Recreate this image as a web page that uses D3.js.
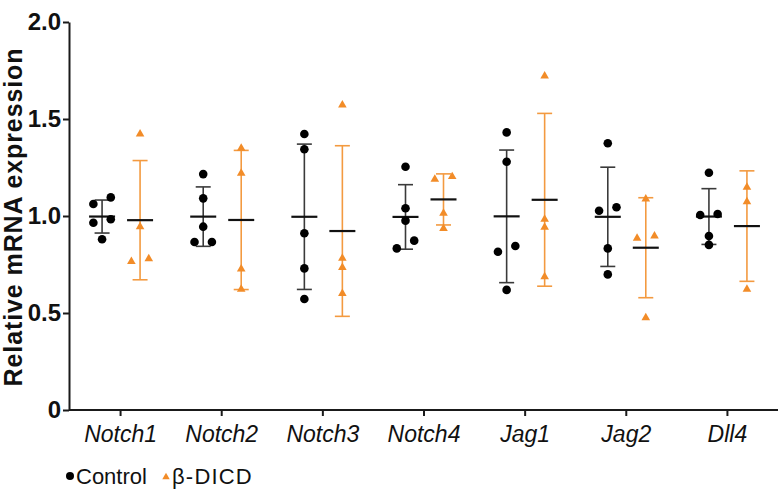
<!DOCTYPE html>
<html>
<head>
<meta charset="utf-8">
<script src="https://cdn.jsdelivr.net/npm/d3@7"></script>
<style>
  html, body { margin: 0; padding: 0; background: #fff; }
  svg { display: block; }
  text { font-family: "Liberation Sans", Arial, Helvetica, sans-serif; }
</style>
</head>
<body>
<svg id="chart" width="778" height="491"></svg>
<script>
// ---- data ----
const categories = ["Notch1", "Notch2", "Notch3", "Notch4", "Jag1", "Jag2", "Dll4"];
const seriesNames = ["Control", "β-DICD"];
const controlValues = [
  [1.096, 1.062, 0.983, 0.965, 0.880],
  [1.216, 1.091, 0.945, 0.866, 0.866],
  [1.423, 1.344, 0.911, 0.730, 0.572],
  [1.254, 1.040, 0.976, 0.873, 0.833],
  [1.431, 1.280, 0.845, 0.816, 0.619],
  [1.375, 1.045, 1.027, 0.833, 0.699],
  [1.223, 1.010, 1.005, 0.897, 0.851]
];
const dicdValues = [
  [1.423, 0.945, 0.780, 0.766],
  [1.349, 1.220, 0.727, 0.622],
  [1.572, 0.782, 0.735, 0.601],
  [1.203, 1.189, 1.014, 0.936],
  [1.722, 0.983, 0.942, 0.687],
  [1.088, 0.897, 0.885, 0.476],
  [1.148, 1.074, 0.622]
];
const yTickValues = [0, 0.5, 1.0, 1.5, 2.0];
const yTickLabels = ["0", "0.5", "1.0", "1.5", "2.0"];
const yTitle = "Relative mRNA expression";

// ---- styles ----
const colors = { "Control": "#000000", "β-DICD": "#F28C28" };
const barColors = { "Control": "#3a3a3a", "β-DICD": "#F39A40" };
const markerSize = { "Control": 8.6, "β-DICD": 7.6 };

const svg = d3.select("#chart");
const W = 778, H = 491;
svg.append("rect").attr("width", W).attr("height", H).attr("fill", "#fff");

const y = d3.scaleLinear().domain([0, 2]).range([410, 22]);
const x = d3.scaleBand().domain(categories).range([70, 778]).padding(0);
const inner = d3.scalePoint().domain(seriesNames).range([-18.5, 19.5]);

const seriesData = { "Control": controlValues, "β-DICD": dicdValues };

// build groups
const groups = [];
categories.forEach((c, i) => {
  seriesNames.forEach(s => {
    const vals = seriesData[s][i];
    groups.push({
      cat: c, series: s, values: vals,
      mean: d3.mean(vals), sd: d3.deviation(vals),
      cx: x(c) + x.bandwidth() / 2 + inner(s)
    });
  });
});

// dodge points with near-equal values horizontally (symmetric about center)
function dodge(g) {
  const thr = markerSize[g.series];
  const sorted = g.values.slice().sort((a, b) => a - b);
  const bins = [];
  sorted.forEach(v => {
    const last = bins[bins.length - 1];
    if (last && Math.abs(y(v) - y(last[0])) < thr) last.push(v);
    else bins.push([v]);
  });
  const pts = [];
  bins.forEach(b => {
    b.forEach((v, k) => {
      pts.push({ v, dx: (k - (b.length - 1) / 2) * 17.4 });
    });
  });
  return pts;
}

// axes
const yAxis = d3.axisLeft(y).tickValues(yTickValues)
  .tickFormat((d, i) => yTickLabels[i]).tickSize(6).tickPadding(2).tickSizeOuter(0);
const gy = svg.append("g").attr("transform", "translate(69,0)").call(yAxis);
gy.select(".domain").attr("stroke", "#1a1a1a").attr("stroke-width", 2);
gy.selectAll(".tick line").attr("stroke", "#1a1a1a").attr("stroke-width", 2);
gy.selectAll(".tick text").attr("font-size", 24).attr("font-weight", "bold")
  .attr("fill", "#111").attr("font-family", "'Liberation Sans', Arial, sans-serif");

const xAxis = d3.axisBottom(x).tickSize(6).tickPadding(10).tickSizeOuter(0);
const gx = svg.append("g").attr("transform", "translate(0,410)").call(xAxis);
gx.select(".domain").attr("stroke", "#1a1a1a").attr("stroke-width", 2)
  .attr("d", "M69,0H778");
gx.selectAll(".tick line").attr("stroke", "#1a1a1a").attr("stroke-width", 2);
gx.selectAll(".tick text").attr("font-size", 23).attr("font-style", "italic")
  .attr("fill", "#111").attr("font-family", "'Liberation Sans', Arial, sans-serif");

// y title
svg.append("text")
  .attr("transform", `translate(22,${(22 + 410) / 2 + 1}) rotate(-90)`)
  .attr("text-anchor", "middle")
  .attr("font-size", 25).attr("font-weight", "bold").attr("fill", "#111")
  .attr("letter-spacing", 0.9)
  .text(yTitle);

// error bars
const eb = svg.append("g");
groups.forEach(g => {
  const col = barColors[g.series];
  const top = y(g.mean + g.sd), bot = y(g.mean - g.sd);
  eb.append("line").attr("x1", g.cx).attr("x2", g.cx).attr("y1", top).attr("y2", bot)
    .attr("stroke", col).attr("stroke-width", 1.6);
  [top, bot].forEach(yy => {
    eb.append("line").attr("x1", g.cx - 7.5).attr("x2", g.cx + 7.5).attr("y1", yy).attr("y2", yy)
      .attr("stroke", col).attr("stroke-width", 1.6);
  });
  eb.append("line").attr("x1", g.cx - 13).attr("x2", g.cx + 13)
    .attr("y1", y(g.mean)).attr("y2", y(g.mean))
    .attr("stroke", "#111").attr("stroke-width", 2.2);
});

// points
const tri = d3.symbol().type(d3.symbolTriangle).size(32);
const pg = svg.append("g");
groups.forEach(g => {
  dodge(g).forEach(p => {
    if (g.series === "Control") {
      pg.append("circle").attr("cx", g.cx + p.dx).attr("cy", y(p.v)).attr("r", 4.3)
        .attr("fill", colors[g.series]);
    } else {
      pg.append("path").attr("d", tri)
        .attr("transform", `translate(${g.cx + p.dx},${y(p.v)})`)
        .attr("fill", colors[g.series]);
    }
  });
});

// legend
const lg = svg.append("g");
const legendX = [70, 166];
seriesNames.forEach((s, i) => {
  if (s === "Control") {
    lg.append("circle").attr("cx", legendX[i]).attr("cy", 476).attr("r", 4).attr("fill", colors[s]);
  } else {
    lg.append("path").attr("d", d3.symbol().type(d3.symbolTriangle).size(24))
      .attr("transform", `translate(${legendX[i]},477)`).attr("fill", colors[s]);
  }
  lg.append("text").attr("x", legendX[i] + 6).attr("y", 484)
    .attr("font-size", 22).attr("fill", "#111")
    .attr("letter-spacing", i === 1 ? 1.2 : 0)
    .text(s);
});
</script>
</body>
</html>
